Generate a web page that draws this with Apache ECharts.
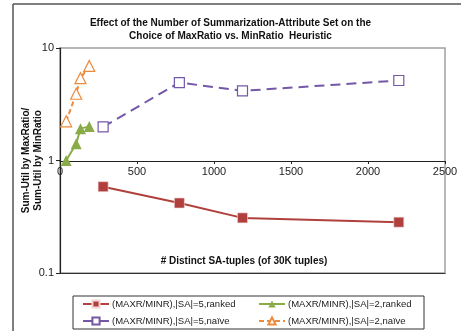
<!DOCTYPE html>
<html>
<head>
<meta charset="utf-8">
<script src="https://cdn.jsdelivr.net/npm/echarts@6/dist/echarts.min.js"></script>
<style>
  html, body { margin: 0; padding: 0; background: #fff; }
  #chart { width: 461px; height: 331px; }
</style>
</head>
<body>
<div id="chart"></div>
<script>
// data
var xSA5 = [280, 775, 1185, 2200];
var xSA2 = [40, 105, 133, 190];
var sa5Ranked = [0.585, 0.419, 0.309, 0.283];
var sa2Ranked = [1.0, 1.41, 1.92, 2.01];
var sa5Naive = [1.99, 4.93, 4.16, 5.14];
var sa2Naive = [2.23, 3.92, 5.39, 6.93];
var seriesNames = [
  '(MAXR/MINR),|SA|=5,ranked',
  '(MAXR/MINR),|SA|=2,ranked',
  '(MAXR/MINR),|SA|=5,naïve',
  '(MAXR/MINR),|SA|=2,naïve'
];
var xTicks = [0, 500, 1000, 1500, 2000, 2500];

var font = '"Liberation Sans", Arial, sans-serif';

function pairs(xs, ys) {
  var out = [];
  for (var i = 0; i < xs.length; i++) out.push([xs[i], ys[i]]);
  return out;
}

var chart = echarts.init(document.getElementById('chart'));

var legendBase = {
  orient: 'vertical',
  top: 299,
  padding: 0,
  itemWidth: 26, itemHeight: 9, itemGap: 7,
  textStyle: { fontFamily: font, fontSize: 9.5, color: '#222', padding: [0, 0, 0, -2] }
};

var option = {
  animation: false,
  backgroundColor: '#fff',
  title: {
    text: 'Effect of the Number of Summarization-Attribute Set on the\nChoice of MaxRatio vs. MinRatio  Heuristic',
    left: 'center',
    top: 12,
    textStyle: { fontFamily: font, fontSize: 10, fontWeight: 'bold', color: '#111', lineHeight: 13 }
  },
  grid: {
    left: 60, right: 16, top: 48, bottom: 58,
    show: true, borderColor: '#a0a0a0', borderWidth: 1.5
  },
  xAxis: [{
    type: 'value',
    min: xTicks[0], max: xTicks[xTicks.length - 1], interval: 500,
    position: 'bottom',
    offset: -112,
    axisLine: { onZero: false, lineStyle: { color: '#222', width: 1 } },
    axisTick: { show: true, length: 3, inside: false, lineStyle: { color: '#222' } },
    axisLabel: {
      fontFamily: font, fontSize: 11, color: '#222', margin: 5,
      formatter: function (v) { return String(v); }
    },
    splitLine: { show: false }
  }, {
    type: 'value',
    min: 0, max: 2500,
    position: 'bottom',
    axisLine: { show: true, onZero: false, lineStyle: { color: '#333', width: 1.2 } },
    axisTick: { show: false },
    axisLabel: { show: false },
    splitLine: { show: false }
  }],
  yAxis: {
    type: 'log',
    logBase: 10,
    min: 0.1, max: 10,
    name: 'Sum-Util by MaxRatio/\nSum-Util by MinRatio',
    nameLocation: 'middle',
    nameGap: 16,
    nameMoveOverlap: false,
    nameTextStyle: { fontFamily: font, fontSize: 10, fontWeight: 'bold', color: '#111', lineHeight: 12 },
    axisLine: { show: true, onZero: false, lineStyle: { color: '#222', width: 1.2 } },
    axisTick: { show: true, length: 4, lineStyle: { color: '#222' } },
    minorTick: { show: false },
    axisLabel: { fontFamily: font, fontSize: 11, color: '#222', margin: 6 },
    splitLine: { show: false }
  },
  legend: [
    Object.assign({}, legendBase, { left: 82, data: [seriesNames[0], seriesNames[2]] }),
    Object.assign({}, legendBase, { left: 258, data: [seriesNames[1], seriesNames[3]] })
  ],
  graphic: [
    { type: 'line', shape: { x1: 13, y1: 4, x2: 461, y2: 4 }, style: { stroke: '#555', lineWidth: 1.5 }, silent: true },
    { type: 'line', shape: { x1: 13, y1: 4, x2: 13, y2: 331 }, style: { stroke: '#555', lineWidth: 1.5 }, silent: true },
    { type: 'rect', shape: { x: 73, y: 296, width: 351, height: 33 }, style: { fill: 'none', stroke: '#333', lineWidth: 1 }, silent: true },
    { type: 'text', x: 244, y: 261, style: { text: '# Distinct SA-tuples (of 30K tuples)', font: 'bold 10px ' + font, fill: '#111', align: 'center', verticalAlign: 'middle' }, silent: true }
  ],
  series: [{
    name: seriesNames[0],
    type: 'line',
    data: pairs(xSA5, sa5Ranked),
    symbol: 'rect', symbolSize: 10,
    itemStyle: { color: '#b0403d', borderColor: '#f3d5d3', borderWidth: 0.6 },
    lineStyle: { color: '#b0403d', width: 2 },
    z: 3
  }, {
    name: seriesNames[1],
    type: 'line',
    data: pairs(xSA2, sa2Ranked),
    symbol: 'triangle', symbolSize: 11,
    itemStyle: { color: '#8aac48' },
    lineStyle: { color: '#8aac48', width: 2 },
    z: 3
  }, {
    name: seriesNames[2],
    type: 'line',
    data: pairs(xSA5, sa5Naive),
    symbol: 'rect', symbolSize: 10,
    itemStyle: { color: '#ffffff', borderColor: '#7458a6', borderWidth: 1.2 },
    lineStyle: { color: '#7458a6', width: 2, type: [10, 6] },
    z: 3
  }, {
    name: seriesNames[3],
    type: 'line',
    data: pairs(xSA2, sa2Naive),
    symbol: 'triangle', symbolSize: 11,
    itemStyle: { color: '#ffffff', borderColor: '#ee8a3c', borderWidth: 1.2 },
    lineStyle: { color: '#ee8a3c', width: 2, type: [5, 3] },
    z: 3
  }]
};

chart.setOption(option);
</script>
</body>
</html>
